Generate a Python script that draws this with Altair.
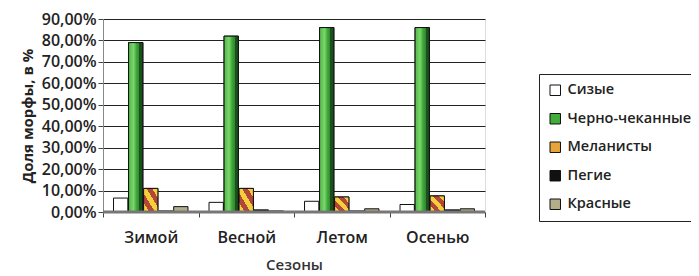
import altair as alt
import pandas as pd

seasons = ["Зимой", "Весной", "Летом", "Осенью"]
morphs = ["Сизые", "Черно-чеканные", "Меланисты", "Пегие", "Красные"]
sizye = [0.065, 0.045, 0.05, 0.035]
cherno = [0.79, 0.82, 0.86, 0.86]
melanisty = [0.11, 0.11, 0.07, 0.075]
pegie = [0.005, 0.01, 0.005, 0.01]
krasnye = [0.025, 0.005, 0.015, 0.015]
colors = ["#ffffff", "#3fae3a", "#e8a33a", "#111111", "#b3ad8a"]
tick_values = [0.0, 0.1, 0.2, 0.3, 0.4, 0.5, 0.6, 0.7, 0.8, 0.9]

series = [sizye, cherno, melanisty, pegie, krasnye]
rows = []
for m, vals in zip(morphs, series):
    for s, v in zip(seasons, vals):
        rows.append({"season": s, "morph": m, "value": v})
df = pd.DataFrame(rows)

FONT = "Open Sans"

x = alt.X("season:N", sort=seasons, scale=alt.Scale(paddingInner=0, paddingOuter=0),
          axis=alt.Axis(title="Сезоны", labelAngle=0, tickBand="extent", tickSize=5,
                        labelPadding=12, titlePadding=12, labelFontSize=16, titleFontSize=15,
                        labelFont=FONT, titleFont=FONT, labelFontWeight=600, titleFontWeight=600,
                        domainColor="#888", tickColor="#444", labelColor="#222", titleColor="#333"))
xo = alt.XOffset("morph:N", sort=morphs,
                 scale=alt.Scale(domain=morphs, paddingOuter=0.7, paddingInner=0.05))
yaxis = alt.Axis(title="Доля морфы, в %", values=tick_values,
                 labelExpr="replace(format(datum.value, '.2%'), '.', ',')",
                 labelOverlap=False, tickSize=5, labelFontSize=16, titleFontSize=15,
                 labelFont=FONT, titleFont=FONT, labelFontWeight=600, titleFontWeight=700,
                 gridColor="#222", gridWidth=1, domainColor="#888", tickColor="#444",
                 labelColor="#222", titleColor="#222", titlePadding=6, labelPadding=2)
yscale = alt.Scale(domain=[0, 0.9])
y = alt.Y("value:Q", scale=yscale, axis=yaxis)

base = alt.Chart(df).mark_bar(stroke="#111", strokeWidth=1).encode(
    x=x, xOffset=xo, y=y,
    color=alt.Color("morph:N", sort=morphs,
                    scale=alt.Scale(domain=morphs, range=colors),
                    legend=alt.Legend(title=None, orient="none", legendX=436, legendY=55,
                                      labelFont=FONT, labelFontSize=14.5, labelFontWeight=600,
                                      labelColor="#222", symbolType="square", symbolSize=110,
                                      symbolStrokeColor="#111", symbolStrokeWidth=1,
                                      rowPadding=12.5, padding=9, strokeColor="#222",
                                      fillColor="white", labelOffset=5))
)

green_grad = alt.Gradient(gradient="linear", x1=0, y1=0, x2=1, y2=0, stops=[
    alt.GradientStop(offset=0, color="#4cb844"),
    alt.GradientStop(offset=0.35, color="#7fd46e"),
    alt.GradientStop(offset=0.55, color="#3fa83a"),
    alt.GradientStop(offset=0.75, color="#2f8a2c"),
    alt.GradientStop(offset=0.76, color="#1b4f1d"),
    alt.GradientStop(offset=1, color="#1b4f1d"),
])
stops = []
n = 5
for i in range(n):
    c = "#f3d03a" if i % 2 == 0 else "#b4453a"
    stops.append(alt.GradientStop(offset=i / n, color=c))
    stops.append(alt.GradientStop(offset=(i + 1) / n - 0.001, color=c))
mel_grad = alt.Gradient(gradient="linear", x1=0, y1=1, x2=1, y2=0, stops=stops)

green = alt.Chart(df).transform_filter(alt.datum.morph == "Черно-чеканные").mark_bar(
    color=green_grad, stroke="#111", strokeWidth=1).encode(x=x, xOffset=xo, y=y)
mel = alt.Chart(df).transform_filter(alt.datum.morph == "Меланисты").mark_bar(
    color=mel_grad, stroke="#111", strokeWidth=1).encode(x=x, xOffset=xo, y=y)

floor = alt.Chart(pd.DataFrame({"value": [0.0]})).mark_rule(color="#777", strokeWidth=3).encode(
    y=y)

chart = alt.layer(base, green, mel, floor).properties(
    width=382, height=193,
    autosize=alt.AutoSizeParams(type="none"),
    padding={"left": 95, "top": 11, "right": 206, "bottom": 64},
).configure_view(stroke="#999", strokeWidth=1).configure(background="white")

chart.save("out.html", embed_options={"renderer": "svg", "actions": False})
